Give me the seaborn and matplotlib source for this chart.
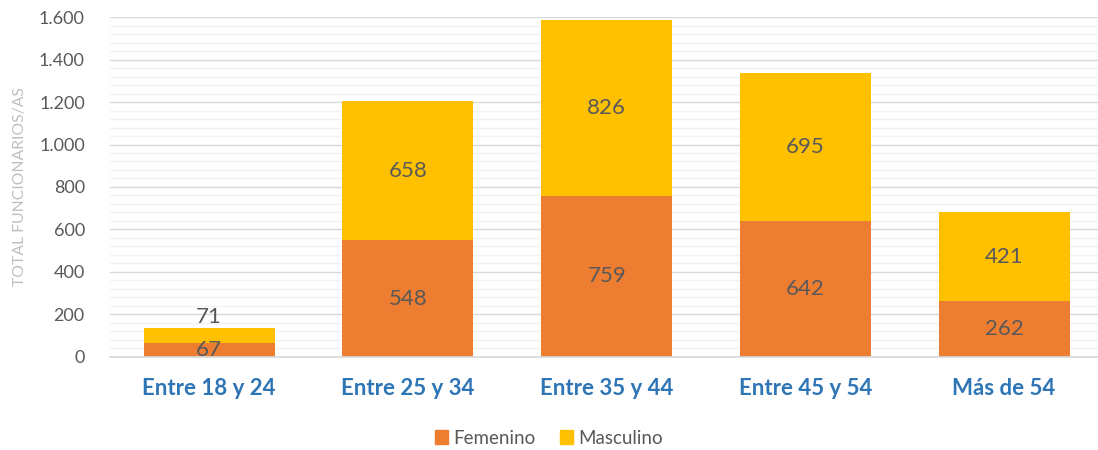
import numpy as np
import pandas as pd
import matplotlib
matplotlib.use('Agg')
import matplotlib.pyplot as plt
from matplotlib.patches import Patch
from matplotlib.ticker import MultipleLocator, FuncFormatter
import seaborn as sns

categorias = ['Entre 18 y 24', 'Entre 25 y 34', 'Entre 35 y 44', 'Entre 45 y 54', 'Más de 54']
femenino = [67, 548, 759, 642, 262]
masculino = [71, 658, 826, 695, 421]

COL_FEM = '#ED7D31'
COL_MAS = '#FFC000'
GRIS = '#595959'

sns.set_theme(style='white')
plt.rcParams['font.family'] = ['Lato', 'DejaVu Sans']

df = pd.DataFrame({'Edad': categorias, 'Femenino': femenino, 'Masculino': masculino})
df['Total'] = df['Femenino'] + df['Masculino']

fig = plt.figure(figsize=(10.98, 4.5), dpi=100)
ax = fig.add_axes([0.1, 0.207, 0.905, 0.755])

# stacked: draw total (masculino on top) then femenino over it
sns.barplot(data=df, x='Edad', y='Total', color=COL_MAS, saturation=1, width=0.66,
            linewidth=0, ax=ax, zorder=3)
sns.barplot(data=df, x='Edad', y='Femenino', color=COL_FEM, saturation=1, width=0.66,
            linewidth=0, ax=ax, zorder=3)

ax.set_ylim(0, 1600)
ax.set_xlim(-0.5, 4.5)
ax.yaxis.set_major_locator(MultipleLocator(200))
ax.yaxis.set_minor_locator(MultipleLocator(40))
ax.yaxis.set_major_formatter(FuncFormatter(lambda v, p: f'{int(v):,}'.replace(',', '.')))
ax.grid(axis='y', which='major', color='#D9D9D9', linewidth=1.0, zorder=0)
ax.grid(axis='y', which='minor', color='#F2F2F2', linewidth=1.0, zorder=0)
ax.set_axisbelow(True)
for s in ['top', 'right', 'left']:
    ax.spines[s].set_visible(False)
ax.spines['bottom'].set_color('#D9D9D9')
ax.spines['bottom'].set_zorder(4)

ax.tick_params(axis='y', which='both', length=0, labelsize=13, labelcolor=GRIS, pad=18)
ax.tick_params(axis='x', length=0, labelsize=16, labelcolor='#2E75B6', pad=15)
for t in ax.get_xticklabels():
    t.set_fontweight('bold')

ax.set_xlabel('')
ax.set_ylabel('')
fig.text(20 / 1098, (450 - 187) / 450, 'TOTAL FUNCIONARIOS/AS', rotation=90,
         ha='center', va='center', fontsize=11.3, color='#BFBFBF')

# data labels
for i, (f, m) in enumerate(zip(femenino, masculino)):
    ax.text(i, f / 2, str(f), ha='center', va='center', fontsize=16, color=GRIS, zorder=5)
    ym = f + m / 2
    if m < 150:
        ym = f + m + 50
    ax.text(i, ym, str(m), ha='center', va='center', fontsize=16, color=GRIS, zorder=5)

handles = [Patch(color=COL_FEM, label='Femenino'), Patch(color=COL_MAS, label='Masculino')]
fig.legend(handles=handles, loc='center', bbox_to_anchor=(0.5, 1 - 438 / 450), ncol=2,
           frameon=False, fontsize=13.5, labelcolor=GRIS, handlelength=0.7, handleheight=0.7,
           handletextpad=0.3, columnspacing=1.3)

fig.savefig('out.png', dpi=100)
